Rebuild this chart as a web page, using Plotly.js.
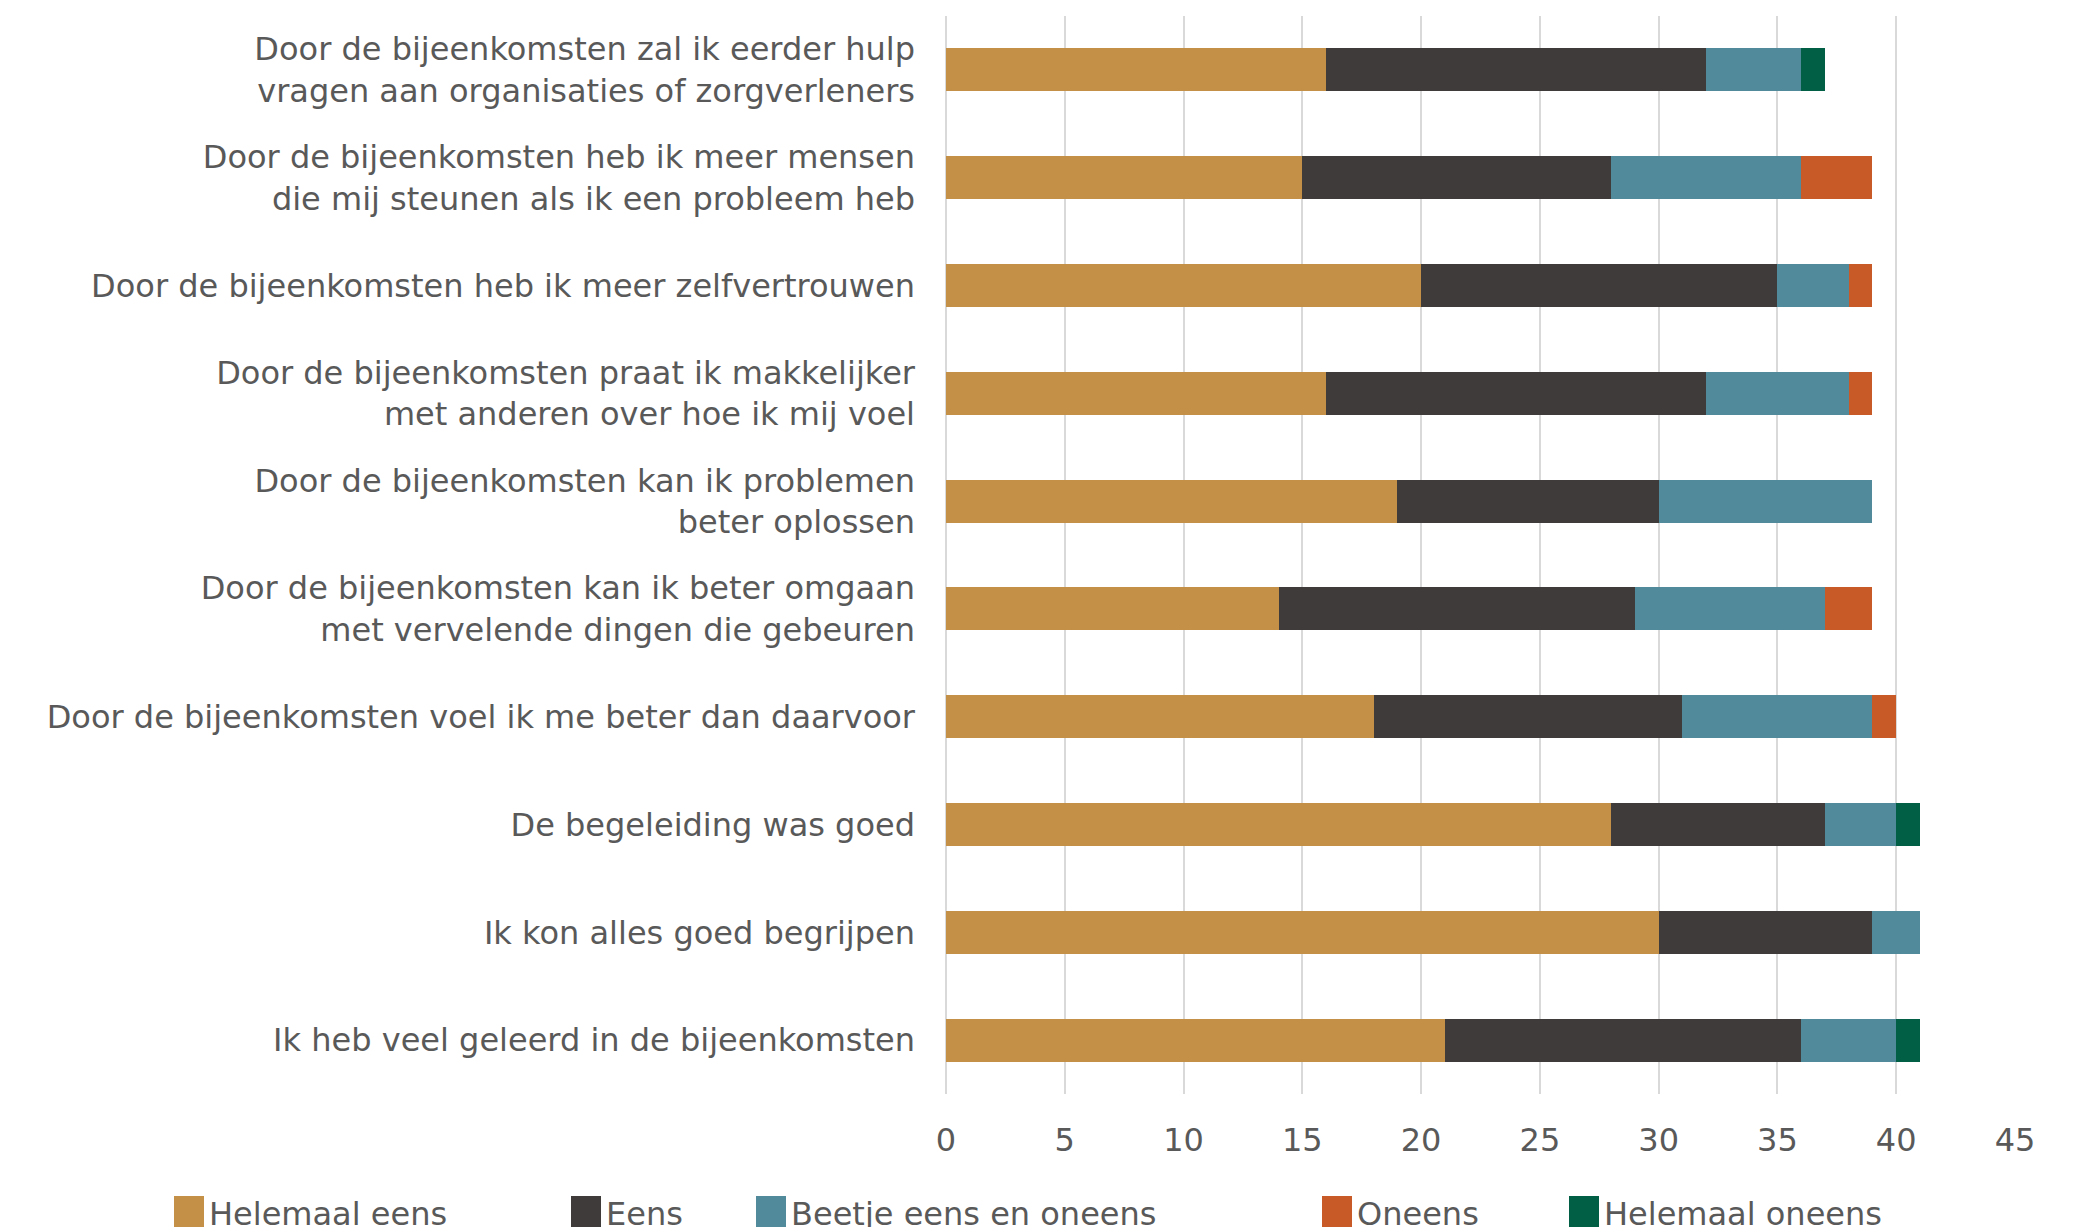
<!DOCTYPE html>
<html>
<head>
<meta charset="utf-8">
<script src="https://cdn.plot.ly/plotly-3.0.1.min.js"></script>
<style>html,body{margin:0;padding:0;background:#fff;}#chart{width:2100px;height:1227px;}</style>
</head>
<body>
<div id="chart"></div>
<script>
const categories = [
  "Door de bijeenkomsten zal ik eerder hulp<br>vragen aan organisaties of zorgverleners",
  "Door de bijeenkomsten heb ik meer mensen<br>die mij steunen als ik een probleem heb",
  "Door de bijeenkomsten heb ik meer zelfvertrouwen",
  "Door de bijeenkomsten praat ik makkelijker<br>met anderen over hoe ik mij voel",
  "Door de bijeenkomsten kan ik problemen<br>beter oplossen",
  "Door de bijeenkomsten kan ik beter omgaan<br>met vervelende dingen die gebeuren",
  "Door de bijeenkomsten voel ik me beter dan daarvoor",
  "De begeleiding was goed",
  "Ik kon alles goed begrijpen",
  "Ik heb veel geleerd in de bijeenkomsten"
];
const seriesNames = ["Helemaal eens", "Eens", "Beetje eens en oneens", "Oneens", "Helemaal oneens"];
const helemaalEens   = [16, 15, 20, 16, 19, 14, 18, 28, 30, 21];
const eens           = [16, 13, 15, 16, 11, 15, 13,  9,  9, 15];
const beetje         = [ 4,  8,  3,  6,  9,  8,  8,  3,  2,  4];
const oneens         = [ 0,  3,  1,  1,  0,  2,  1,  0,  0,  0];
const helemaalOneens = [ 1,  0,  0,  0,  0,  0,  0,  1,  0,  1];
const xTicks = [0, 5, 10, 15, 20, 25, 30, 35, 40, 45];

const seriesValues = [helemaalEens, eens, beetje, oneens, helemaalOneens];
const colors = ["#C48F47", "#403B3B", "#518A9A", "#C75A27", "#005F45"];
const legendIds = ["legend", "legend2", "legend3", "legend4", "legend5"];
const legendX = [169, 566, 751, 1317, 1564];

const font = {family: "DejaVu Sans, Verdana, sans-serif", size: 32, color: "#595959"};

const traces = seriesNames.map((name, i) => ({
  type: "bar",
  orientation: "h",
  name: name,
  y: categories,
  x: seriesValues[i],
  marker: {color: colors[i], line: {width: 0}},
  legend: legendIds[i],
  hoverinfo: "x+name"
}));

const layout = {
  width: 2100,
  height: 1227,
  paper_bgcolor: "#ffffff",
  plot_bgcolor: "#ffffff",
  font: font,
  barmode: "stack",
  bargap: 0.6,
  margin: {l: 946, r: 85, t: 16, b: 133, autoexpand: false},
  xaxis: {
    range: [0, 45],
    tickvals: xTicks,
    ticktext: xTicks.map(String),
    showgrid: true,
    gridcolor: "#D9D9D9",
    gridwidth: 2,
    zeroline: true,
    zerolinecolor: "#D9D9D9",
    zerolinewidth: 2,
    showline: false,
    ticks: "",
    ticklabelstandoff: 24,
    tickfont: font,
    fixedrange: true
  },
  yaxis: {
    autorange: "reversed",
    type: "category",
    showgrid: false,
    zeroline: false,
    showline: false,
    ticks: "",
    ticklabelstandoff: 30,
    tickfont: font,
    fixedrange: true
  },
  showlegend: true
};

legendIds.forEach((id, i) => {
  layout[id] = {
    orientation: "h",
    xref: "container",
    yref: "container",
    x: legendX[i] / 2100,
    xanchor: "left",
    y: 0.012,
    yanchor: "middle",
    font: font,
    bgcolor: "rgba(0,0,0,0)",
    itemclick: false,
    itemdoubleclick: false
  };
});

Plotly.newPlot("chart", traces, layout, {staticPlot: true, displayModeBar: false}).then(gd => {
  // enlarge legend swatches to match the reference's square blocks
  gd.querySelectorAll(".legendpoints path").forEach(p => {
    p.setAttribute("d", "M15,16H-15V-16H15Z");
  });
});
</script>
</body>
</html>
